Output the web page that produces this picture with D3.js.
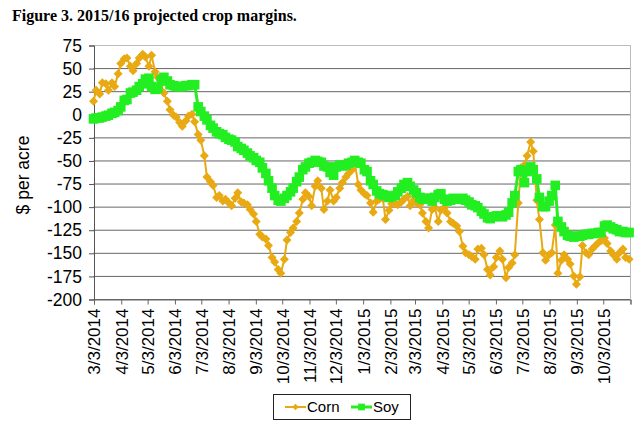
<!DOCTYPE html>
<html>
<head>
<meta charset="utf-8">
<script src="https://cdn.jsdelivr.net/npm/d3@7"></script>
<style>
  body { margin: 0; background: #fff; }
  svg text { font-family: "Liberation Sans", Arial, sans-serif; fill: #000; }
</style>
</head>
<body>
<svg id="chart" width="640" height="423"></svg>
<script>
// trading dates (Mon/Thu)
var dates = [
  "3/3/2014","3/6/2014","3/10/2014","3/13/2014","3/17/2014","3/20/2014","3/24/2014","3/27/2014","3/31/2014",
  "4/3/2014","4/7/2014","4/10/2014","4/14/2014","4/17/2014","4/21/2014","4/24/2014","4/28/2014",
  "5/1/2014","5/5/2014","5/8/2014","5/12/2014","5/15/2014","5/19/2014","5/22/2014","5/26/2014","5/29/2014",
  "6/2/2014","6/5/2014","6/9/2014","6/12/2014","6/16/2014","6/19/2014","6/23/2014","6/26/2014","6/30/2014",
  "7/3/2014","7/7/2014","7/10/2014","7/14/2014","7/17/2014","7/21/2014","7/24/2014","7/28/2014","7/31/2014",
  "8/4/2014","8/7/2014","8/11/2014","8/14/2014","8/18/2014","8/21/2014","8/25/2014","8/28/2014",
  "9/1/2014","9/4/2014","9/8/2014","9/11/2014","9/15/2014","9/18/2014","9/22/2014","9/25/2014","9/29/2014",
  "10/2/2014","10/6/2014","10/9/2014","10/13/2014","10/16/2014","10/20/2014","10/23/2014","10/27/2014","10/30/2014",
  "11/3/2014","11/6/2014","11/10/2014","11/13/2014","11/17/2014","11/20/2014","11/24/2014","11/27/2014",
  "12/1/2014","12/4/2014","12/8/2014","12/11/2014","12/15/2014","12/18/2014","12/22/2014","12/25/2014","12/29/2014",
  "1/1/2015","1/5/2015","1/8/2015","1/12/2015","1/15/2015","1/19/2015","1/22/2015","1/26/2015","1/29/2015",
  "2/2/2015","2/5/2015","2/9/2015","2/12/2015","2/16/2015","2/19/2015","2/23/2015","2/26/2015",
  "3/2/2015","3/5/2015","3/9/2015","3/12/2015","3/16/2015","3/19/2015","3/23/2015","3/26/2015","3/30/2015",
  "4/2/2015","4/6/2015","4/9/2015","4/13/2015","4/16/2015","4/20/2015","4/23/2015","4/27/2015","4/30/2015",
  "5/4/2015","5/7/2015","5/11/2015","5/14/2015","5/18/2015","5/21/2015","5/25/2015","5/28/2015",
  "6/1/2015","6/4/2015","6/8/2015","6/11/2015","6/15/2015","6/18/2015","6/22/2015","6/25/2015","6/29/2015",
  "7/2/2015","7/6/2015","7/9/2015","7/13/2015","7/16/2015","7/20/2015","7/23/2015","7/27/2015","7/30/2015",
  "8/3/2015","8/6/2015","8/10/2015","8/13/2015","8/17/2015","8/20/2015","8/24/2015","8/27/2015","8/31/2015",
  "9/3/2015","9/7/2015","9/10/2015","9/14/2015","9/17/2015","9/21/2015","9/24/2015","9/28/2015",
  "10/1/2015","10/5/2015","10/8/2015","10/12/2015","10/15/2015","10/19/2015","10/22/2015","10/26/2015","10/29/2015",
  "11/2/2015"
];

var corn = [
  14, 26, 22, 34, 33, 26, 34, 30, 44,
  55, 60, 61, 52, 47, 55, 61, 65,
  62, 52, 64, 46, 40, 33, 23, 14, 5,
  -1, -3, -9, -13, -7, -2, 0, -8, -22,
  -28, -45, -68, -73, -77, -90, -88, -94, -92,
  -96, -99, -91, -85, -95, -96, -98, -103,
  -108, -116, -130, -133, -135, -142, -155, -160, -168,
  -172, -157, -136, -128, -123, -116, -107, -92, -85,
  -89, -99, -78, -72, -80, -103, -94, -82,
  -94, -90, -80, -74, -68, -64, -60, -52, -76,
  -82, -86, -88, -96, -106, -94, -92, -91, -114,
  -104, -97, -97, -98, -95, -92, -89, -99,
  -93, -96, -98, -107, -116, -123, -103, -101, -116,
  -104, -101, -107, -116, -118, -121, -127, -143, -150,
  -152, -154, -157, -146, -145, -152, -168, -174,
  -165, -155, -148, -157, -177, -166, -161, -152, -96,
  -58, -55, -45, -30, -40, -93, -114, -150, -158,
  -152, -150, -120, -172, -158, -152, -157, -162, -175,
  -184, -176, -142, -150, -152, -146, -143, -139,
  -137, -134, -140, -148, -152, -157, -150, -146, -155,
  -157
];

var soy = [
  -5, -4, -4, -3, -2, -1, 1, 2, 4,
  8, 15, 16, 23, 24, 26, 30, 33,
  38, 39, 30, 27, 28, 37, 40, 36, 32,
  31, 30, 30, 30, 31, 31, 32, 32, 8,
  3, -2, -6, -12, -15, -19, -21, -22, -25,
  -27, -28, -30, -35, -37, -39, -42, -45,
  -47, -50, -52, -58, -64, -72, -80, -88, -93,
  -94, -91, -88, -84, -80, -73, -68, -60, -57,
  -53, -52, -50, -51, -52, -56, -57, -63,
  -66, -57, -55, -56, -55, -53, -52, -50, -52,
  -53, -60, -62, -72, -76, -83, -86, -87, -88,
  -90, -89, -88, -84, -80, -76, -74, -78,
  -82, -85, -90, -92, -91, -91, -94, -90, -87,
  -86, -92, -94, -93, -91, -92, -92, -91, -93,
  -95, -98, -99, -101, -105, -108, -112, -113,
  -111, -110, -110, -111, -109, -106, -96, -88, -62,
  -60, -74, -62, -57, -60, -70, -90, -100, -100,
  -94, -88, -77, -116, -122, -127, -131, -132, -133,
  -132, -132, -131, -130, -130, -129, -129, -128,
  -128, -121, -120, -122, -124, -125, -127, -127, -128,
  -128
];

var monthTicks = [
  "3/3/2014","4/3/2014","5/3/2014","6/3/2014","7/3/2014","8/3/2014","9/3/2014","10/3/2014",
  "11/3/2014","12/3/2014","1/3/2015","2/3/2015","3/3/2015","4/3/2015","5/3/2015","6/3/2015",
  "7/3/2015","8/3/2015","9/3/2015","10/3/2015"
];
var axisEnd = "11/3/2015";
var yTicks = [75, 50, 25, 0, -25, -50, -75, -100, -125, -150, -175, -200];

var cornColor = "#E8A912", soyColor = "#22EE22";

var parse = d3.timeParse("%m/%d/%Y");
var svg = d3.select("#chart");

var x = d3.scaleTime()
    .domain([parse(monthTicks[0]), parse(axisEnd)])
    .range([93.5, 630]);
var y = d3.scaleLinear()
    .domain([-200, 75])
    .range([299, 45]);

svg.append("text")
    .attr("x", 12).attr("y", 21)
    .style("font-family", "'Liberation Serif','Times New Roman',serif")
    .style("font-weight", "bold")
    .style("font-size", "16px")
    .text("Figure 3. 2015/16 projected crop margins.");

// gridlines
svg.append("g")
    .selectAll("line")
    .data(yTicks)
    .enter()
    .append("line")
    .attr("x1", x.range()[0]).attr("x2", x.range()[1])
    .attr("y1", d => y(d) + 0.5).attr("y2", d => y(d) + 0.5)
    .attr("stroke", d => d == 75 ? "#bbb" : "#666")
    .attr("stroke-width", 1);

// right border
svg.append("line")
    .attr("x1", 630.5).attr("x2", 630.5)
    .attr("y1", y(75)).attr("y2", y(-200))
    .attr("stroke", "#bbb");

var yAxis = svg.append("g")
    .attr("transform", "translate(" + (x.range()[0] + 0.5) + ",0.5)")
    .call(d3.axisLeft(y).tickValues(yTicks).tickSize(5).tickPadding(7).tickFormat(d => String(d)));
yAxis.selectAll("text").style("font-size", "17.5px").style("font-family", "'Liberation Sans',Arial,sans-serif");
yAxis.selectAll("line, path").attr("stroke", "#555");

var xAxis = svg.append("g")
    .attr("transform", "translate(0.5," + (y(-200) + 0.5) + ")")
    .call(d3.axisBottom(x)
        .tickValues(monthTicks.map(parse).concat([parse(axisEnd)]))
        .tickSize(5)
        .tickFormat(function (d) {
            var i = monthTicks.map(s => +parse(s)).indexOf(+d);
            return i < 0 ? "" : monthTicks[i];
        }));
xAxis.selectAll("line, path").attr("stroke", "#666");
xAxis.selectAll("text")
    .style("font-size", "17px")
    .style("font-family", "'Liberation Sans',Arial,sans-serif")
    .attr("transform", "rotate(-90)")
    .attr("text-anchor", "end")
    .attr("x", -9).attr("y", 0).attr("dy", "0.35em");

svg.append("text")
    .attr("transform", "translate(29,175) rotate(-90)")
    .attr("text-anchor", "middle")
    .style("font-size", "17.5px")
    .text("$ per acre");

var cornData = dates.map((d, i) => ({ date: parse(d), v: corn[i] }));
var soyData = dates.map((d, i) => ({ date: parse(d), v: soy[i] }));

var line = d3.line().x(d => x(d.date)).y(d => y(d.v));
var diamond = "M0,-4.5L4.5,0L0,4.5L-4.5,0Z";
var square = "M-4.8,-4.8H4.8V4.8H-4.8Z";

var plot = svg.append("g");

plot.append("path")
    .datum(cornData)
    .attr("d", line)
    .attr("fill", "none")
    .attr("stroke", cornColor)
    .attr("stroke-width", 2);
plot.append("g")
    .selectAll("path")
    .data(cornData)
    .enter()
    .append("path")
    .attr("d", diamond)
    .attr("transform", d => "translate(" + x(d.date) + "," + y(d.v) + ")")
    .attr("fill", cornColor);

plot.append("path")
    .datum(soyData)
    .attr("d", line)
    .attr("fill", "none")
    .attr("stroke", soyColor)
    .attr("stroke-width", 3);
plot.append("g")
    .selectAll("path")
    .data(soyData)
    .enter()
    .append("path")
    .attr("d", square)
    .attr("transform", d => "translate(" + x(d.date) + "," + y(d.v) + ")")
    .attr("fill", soyColor);

// legend
var legend = svg.append("g");
legend.append("rect")
    .attr("x", 273.5).attr("y", 394.5)
    .attr("width", 137).attr("height", 25)
    .attr("fill", "#fff").attr("stroke", "#222");
var items = [
    { name: "Corn", color: cornColor, shape: diamond, x: 285, w: 2 },
    { name: "Soy", color: soyColor, shape: square, x: 351, w: 3 }
];
items.forEach(function (it) {
    legend.append("line")
        .attr("x1", it.x).attr("x2", it.x + 21)
        .attr("y1", 407).attr("y2", 407)
        .attr("stroke", it.color).attr("stroke-width", it.w);
    legend.append("path")
        .attr("d", it.shape)
        .attr("transform", "translate(" + (it.x + 10.5) + ",407) scale(0.7)")
        .attr("fill", it.color);
    legend.append("text")
        .attr("x", it.x + 22).attr("y", 407).attr("dy", "0.35em")
        .style("font-size", "15px")
        .text(it.name);
});
</script>
</body>
</html>
